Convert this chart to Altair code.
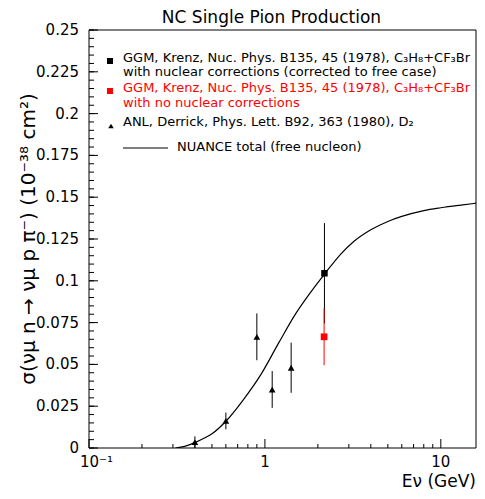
import altair as alt
import pandas as pd

# ---------------- data ----------------
# ANL, Derrick (D2) points
anl_E = [0.40, 0.60, 0.90, 1.10, 1.41]
anl_sig = [0.0035, 0.0162, 0.0665, 0.0350, 0.0480]
anl_err = [0.0035, 0.0050, 0.0140, 0.0110, 0.0150]

# GGM with nuclear corrections (black)
ggm_E = [2.18]
ggm_sig = [0.1045]
ggm_err = [0.030]

# GGM no nuclear corrections (red)
ggmr_E = [2.17]
ggmr_sig = [0.0665]
ggmr_err = [0.017]

# NUANCE total (free nucleon) curve
nu_E = [0.31, 0.35, 0.40, 0.45, 0.50, 0.60, 0.75, 0.95, 1.20, 1.50, 1.80,
        2.20, 2.70, 3.20, 4.00, 5.00, 6.00, 8.00, 10.0, 13.0, 15.85]
nu_sig = [0.0, 0.0010, 0.0032, 0.0058, 0.0085, 0.0160, 0.0285, 0.0440,
          0.0630, 0.0805, 0.0925, 0.1045, 0.1160, 0.1235, 0.1305, 0.1355,
          0.1385, 0.1420, 0.1437, 0.1453, 0.1464]

y_major = [0, 0.025, 0.05, 0.075, 0.1, 0.125, 0.15, 0.175, 0.2, 0.225, 0.25]
y_labels = ["0", "0.025", "0.05", "0.075", "0.1", "0.125", "0.15",
            "0.175", "0.2", "0.225", "0.25"]
y_minor = [round(i * 0.005, 3) for i in range(51)]
x_major = [0.1, 1, 10]
x_labels = ["10\u207b\u00b9", "1", "10"]
x_minor = [0.2, 0.3, 0.4, 0.5, 0.6, 0.7, 0.8, 0.9,
           2, 3, 4, 5, 6, 7, 8, 9]

title_text = "NC Single Pion Production"
xtitle = "E\u03bd (GeV)"
ytitle = "\u03c3(\u03bd\u03bc n \u2192 \u03bd\u03bc p \u03c0\u207b) (10\u207b\u00b3\u2078 cm\u00b2)"

legend_lines = [
    ("GGM, Krenz, Nuc. Phys. B135, 45 (1978), C\u2083H\u2088+CF\u2083Br", "black"),
    ("with nuclear corrections (corrected to free case)", "black"),
    ("GGM, Krenz, Nuc. Phys. B135, 45 (1978), C\u2083H\u2088+CF\u2083Br", "red"),
    ("with no nuclear corrections", "red"),
    ("ANL, Derrick, Phys. Lett. B92, 363 (1980), D\u2082", "black"),
]
nuance_label = "NUANCE total (free nucleon)"

# ---------------- layout constants ----------------
W, H = 387, 418
FONT = "DejaVu Sans"

xscale = alt.Scale(type="log", domain=[0.1, 15.85], nice=False)
yscale = alt.Scale(domain=[0, 0.25], nice=False, zero=False)

def mk(E, s, e):
    return pd.DataFrame({"E": E, "s": s, "lo": [a - b for a, b in zip(s, e)],
                         "hi": [a + b for a, b in zip(s, e)]})

anl = mk(anl_E, anl_sig, anl_err)
ggm = mk(ggm_E, ggm_sig, ggm_err)
ggmr = mk(ggmr_E, ggmr_sig, ggmr_err)
curve = pd.DataFrame({"E": nu_E, "s": nu_sig})
one = pd.DataFrame({"a": [0]})

X = lambda: alt.X("E:Q", scale=xscale, axis=None)
Y = lambda: alt.Y("s:Q", scale=yscale, axis=None)

nuance = alt.Chart(curve).mark_line(color="black", strokeWidth=1.2,
                                    interpolate="monotone", clip=True).encode(x=X(), y=Y())

def errbars(df, color):
    return alt.Chart(df).mark_rule(color=color, strokeWidth=1).encode(
        x=X(), y=alt.Y("lo:Q", scale=yscale, axis=None), y2="hi:Q")

anl_bars = errbars(anl, "black")
anl_pts = alt.Chart(anl).mark_point(shape="triangle-up", filled=True,
                                    color="black", size=45, opacity=1).encode(x=X(), y=Y())
ggm_bars = errbars(ggm, "black")
ggm_pts = alt.Chart(ggm).mark_square(color="black", size=42, opacity=1).encode(x=X(), y=Y())
ggmr_bars = errbars(ggmr, "#ff0000")
ggmr_pts = alt.Chart(ggmr).mark_square(color="#ff0000", size=45, opacity=1).encode(x=X(), y=Y())

# frame
frame = [
    alt.Chart(one).mark_rule(color="black").encode(x=alt.value(0), x2=alt.value(W), y=alt.value(0)),
    alt.Chart(one).mark_rule(color="black").encode(x=alt.value(0), x2=alt.value(W), y=alt.value(H)),
    alt.Chart(one).mark_rule(color="black").encode(x=alt.value(0), y=alt.value(0), y2=alt.value(H)),
    alt.Chart(one).mark_rule(color="black").encode(x=alt.value(W), y=alt.value(0), y2=alt.value(H)),
]

# inward ticks
ymaj = alt.Chart(pd.DataFrame({"v": y_major})).mark_rule(color="black").encode(
    y=alt.Y("v:Q", scale=yscale, axis=None), x=alt.value(0), x2=alt.value(9))
ymin = alt.Chart(pd.DataFrame({"v": y_minor})).mark_rule(color="black").encode(
    y=alt.Y("v:Q", scale=yscale, axis=None), x=alt.value(0), x2=alt.value(5))
xmaj = alt.Chart(pd.DataFrame({"v": x_major})).mark_rule(color="black").encode(
    x=alt.X("v:Q", scale=xscale, axis=None), y=alt.value(H), y2=alt.value(H - 9))
xmin = alt.Chart(pd.DataFrame({"v": x_minor})).mark_rule(color="black").encode(
    x=alt.X("v:Q", scale=xscale, axis=None), y=alt.value(H), y2=alt.value(H - 4))

# tick labels
ylab = alt.Chart(pd.DataFrame({"v": y_major, "t": y_labels})).mark_text(
    align="right", baseline="middle", font=FONT, fontSize=15, color="black").encode(
    y=alt.Y("v:Q", scale=yscale, axis=None), x=alt.value(-10), text="t:N")
xlab_first = alt.Chart(pd.DataFrame({"v": x_major[:1], "t": x_labels[:1]})).mark_text(
    align="left", baseline="top", font=FONT, fontSize=15, color="black", dx=-9).encode(
    x=alt.X("v:Q", scale=xscale, axis=None), y=alt.value(H + 7), text="t:N")
xlab = alt.Chart(pd.DataFrame({"v": x_major[1:], "t": x_labels[1:]})).mark_text(
    align="center", baseline="top", font=FONT, fontSize=15, color="black").encode(
    x=alt.X("v:Q", scale=xscale, axis=None), y=alt.value(H + 7), text="t:N")

# titles
titles = [
    alt.Chart(pd.DataFrame({"t": [title_text]})).mark_text(
        align="center", baseline="alphabetic", font=FONT, fontSize=17, color="black").encode(
        x=alt.value(W / 2 - 11), y=alt.value(-7), text="t:N"),
    alt.Chart(pd.DataFrame({"t": [xtitle]})).mark_text(
        align="right", baseline="alphabetic", font=FONT, fontSize=17, color="black").encode(
        x=alt.value(W), y=alt.value(H + 39), text="t:N"),
    alt.Chart(pd.DataFrame({"t": [ytitle]})).mark_text(
        align="center", baseline="middle", font=FONT, fontSize=20, color="black",
        angle=270).encode(
        x=alt.value(-60), y=alt.value(H / 2), text="t:N"),
]

# legend (decoration placed in pixel space)
leg_y = [28, 42, 58, 73, 92]
leg_df = pd.DataFrame({"t": [l[0] for l in legend_lines],
                       "c": [l[1] for l in legend_lines], "py": leg_y})
leg_text = alt.Chart(leg_df).mark_text(align="left", baseline="middle",
                                       font=FONT, fontSize=13).encode(
    x=alt.value(34), y=alt.Y("py:Q", scale=None, axis=None), text="t:N",
    color=alt.Color("c:N", scale=None, legend=None))
leg_sq1 = alt.Chart(one).mark_square(color="black", size=36, opacity=1).encode(
    x=alt.value(21), y=alt.value(31))
leg_sq2 = alt.Chart(one).mark_square(color="#ff0000", size=36, opacity=1).encode(
    x=alt.value(21), y=alt.value(61))
leg_tri = alt.Chart(one).mark_point(shape="triangle-up", filled=True,
                                    color="black", size=30, opacity=1).encode(
    x=alt.value(22), y=alt.value(96))
leg_line = alt.Chart(one).mark_rule(color="black", strokeWidth=1.2).encode(
    x=alt.value(34), x2=alt.value(79), y=alt.value(118))
leg_nu = alt.Chart(pd.DataFrame({"t": [nuance_label]})).mark_text(
    align="left", baseline="middle", font=FONT, fontSize=13, color="black").encode(
    x=alt.value(88), y=alt.value(117), text="t:N")

chart = alt.layer(
    nuance, *frame, ymin, ymaj, xmin, xmaj, ylab, xlab_first, xlab, *titles,
    anl_bars, anl_pts, ggm_bars, ggmr_bars, ggmr_pts, ggm_pts,
    leg_text, leg_sq1, leg_sq2, leg_tri, leg_line, leg_nu,
).properties(
    width=W, height=H,
    background="white",
    autosize=alt.AutoSizeParams(type="none"),
    padding={"left": 81, "top": 22, "right": 1, "bottom": 43},
).configure_view(strokeWidth=0)

chart.save("out.html", embed_options={"renderer": "svg", "actions": False})
